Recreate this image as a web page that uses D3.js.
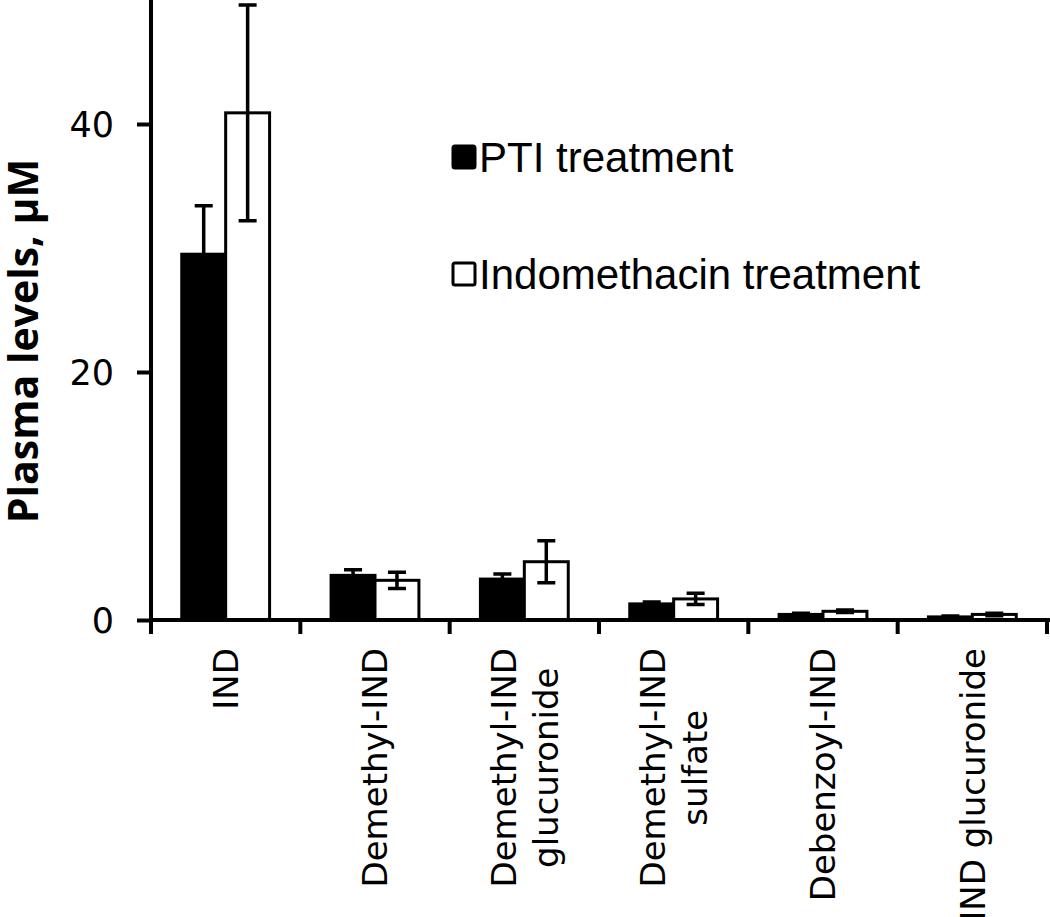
<!DOCTYPE html>
<html>
<head>
<meta charset="utf-8">
<script src="https://cdn.jsdelivr.net/npm/d3@7"></script>
<style>
  body { margin: 0; background: #fff; }
  .tick-label { font-family: "DejaVu Sans", sans-serif; font-size: 35px; fill: #000; }
  .cat-label { font-family: "DejaVu Sans", sans-serif; font-size: 34px; fill: #000; }
  .legend { font-family: "Liberation Sans", Arial, sans-serif; font-size: 42px; fill: #000; }
  .y-title { font-family: "Open Sans", sans-serif; font-weight: bold; font-size: 41px; fill: #000; }
</style>
</head>
<body>
<script>
const categories = [
  ["IND"],
  ["Demethyl-IND"],
  ["Demethyl-IND", "glucuronide"],
  ["Demethyl-IND", "sulfate"],
  ["Debenzoyl-IND"],
  ["IND glucuronide"],
];
const series = ["PTI treatment", "Indomethacin treatment"];
const ptiValues = [29.5, 3.6, 3.3, 1.3, 0.45, 0.25];
const ptiErrors = [3.9, 0.45, 0.4, 0.15, 0.1, 0.08];
const indoValues = [40.9, 3.2, 4.7, 1.7, 0.7, 0.45];
const indoErrors = [8.7, 0.65, 1.7, 0.45, 0.1, 0.1];
const yTicks = [0, 20, 40];

const w = 1050;
const h = 917;

const svg = d3.select("body").append("svg").attr("width", w).attr("height", h);

const keys = categories.map((c) => c.join(" "));
const rows = keys.map((k, i) => [
  { key: k, s: 0, v: ptiValues[i], e: ptiErrors[i] },
  { key: k, s: 1, v: indoValues[i], e: indoErrors[i] },
]);

const x0 = d3.scaleBand().domain(keys).range([151, 1047]);
const x1 = d3
  .scaleBand()
  .domain([0, 1])
  .range([0, x0.bandwidth()])
  .paddingOuter(0.7);
const y = d3.scaleLinear().domain([0, 50]).range([620, 0]);

// bars
const groups = svg
  .selectAll("g.cat")
  .data(rows)
  .enter()
  .append("g")
  .attr("class", "cat")
  .attr("transform", (d, i) => `translate(${x0(keys[i])},0)`);

groups
  .selectAll("rect")
  .data((d) => d)
  .enter()
  .append("rect")
  .attr("x", (d) => x1(d.s))
  .attr("width", x1.bandwidth())
  .attr("y", (d) => y(d.v))
  .attr("height", (d) => y(0) - y(d.v))
  .attr("fill", (d) => (d.s === 0 ? "#000" : "#fff"))
  .attr("stroke", "#000")
  .attr("stroke-width", 3);

// error bars
const cap = 9;
groups.selectAll("path.err")
  .data((d) => d)
  .enter()
  .append("path")
  .attr("class", "err")
  .attr("d", (d) => {
    const cx = x1(d.s) + x1.bandwidth() / 2;
    const hi = y(d.v + d.e);
    const lo = y(Math.max(0, d.v - d.e));
    return `M${cx - cap},${hi}H${cx + cap}M${cx},${hi}V${lo}M${cx - cap},${lo}H${cx + cap}`;
  })
  .attr("fill", "none")
  .attr("stroke", "#000")
  .attr("stroke-width", 3.5);

// y axis
const yAxis = d3.axisLeft(y).tickValues(yTicks).tickSize(14).tickPadding(23);
const yAG = svg.append("g").attr("transform", "translate(151,0)").call(yAxis);
yAG.select(".domain").remove();
yAG.selectAll("line").attr("stroke", "#000").attr("stroke-width", 4);
yAG.selectAll("text").attr("class", "tick-label").attr("dy", "0.36em");
svg
  .append("line")
  .attr("x1", 151)
  .attr("x2", 151)
  .attr("y1", 0)
  .attr("y2", 634)
  .attr("stroke", "#000")
  .attr("stroke-width", 4);

// x axis
svg
  .append("line")
  .attr("x1", 149)
  .attr("x2", 1050)
  .attr("y1", 620)
  .attr("y2", 620)
  .attr("stroke", "#000")
  .attr("stroke-width", 4);
const bounds = keys.map((k) => x0(k)).concat([x0.range()[1]]);
svg
  .selectAll("line.xtick")
  .data(bounds)
  .enter()
  .append("line")
  .attr("class", "xtick")
  .attr("x1", (d) => d)
  .attr("x2", (d) => d)
  .attr("y1", 620)
  .attr("y2", 634)
  .attr("stroke", "#000")
  .attr("stroke-width", 4);

// category labels, rotated; extra lines centred on the first one
const labelTop = 648;
const lh = 42;
categories.forEach((lines, i) => {
  const cx = x0(keys[i]) + x0.bandwidth() / 2;
  const first = svg
    .append("text")
    .attr("class", "cat-label")
    .attr("text-anchor", "end")
    .attr("transform", `translate(${cx - ((lines.length - 1) * lh) / 2},${labelTop}) rotate(-90)`)
    .attr("dy", "0.36em")
    .text(lines[0]);
  const mid = labelTop + first.node().getComputedTextLength() / 2;
  lines.slice(1).forEach((t, j) => {
    svg
      .append("text")
      .attr("class", "cat-label")
      .attr("text-anchor", "middle")
      .attr("transform", `translate(${cx - ((lines.length - 1) * lh) / 2 + (j + 1) * lh},${mid}) rotate(-90)`)
      .attr("dy", "0.36em")
      .text(t);
  });
});

// legend
const legend = svg.append("g");
series.forEach((s, i) => {
  const ly = [157, 274][i];
  legend
    .append("rect")
    .attr("x", 453)
    .attr("y", ly - 11)
    .attr("width", 22)
    .attr("height", 22)
    .attr("rx", 2)
    .attr("fill", i === 0 ? "#000" : "#fff")
    .attr("stroke", "#000")
    .attr("stroke-width", 3);
  legend
    .append("text")
    .attr("class", "legend")
    .attr("x", 479)
    .attr("y", ly)
    .attr("dy", "0.35em")
    .text(s);
});

// y title
svg
  .append("text")
  .attr("class", "y-title")
  .attr("transform", "translate(24,341) rotate(-90)")
  .attr("text-anchor", "middle")
  .attr("dy", "0.35em")
  .text("Plasma levels, µM");
</script>
</body>
</html>
